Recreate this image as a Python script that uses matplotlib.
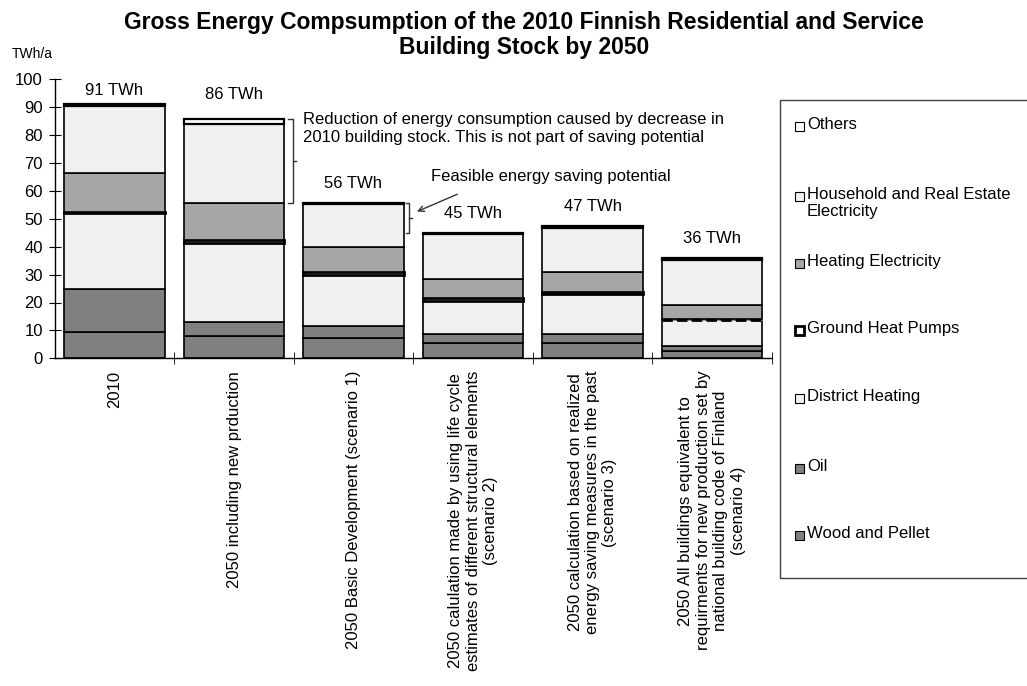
import matplotlib
matplotlib.use('Agg')
import matplotlib.pyplot as plt
import numpy as np

plt.rcParams['font.family'] = ['Liberation Sans', 'DejaVu Sans']

# categories (x axis)
categories = [
    "2010",
    "2050 including new prduction",
    "2050 Basic Development (scenario 1)",
    "2050 calulation made by using life cycle\nestimates of different structural elements\n(scenario 2)",
    "2050 calculation based on realized\nenergy saving measures in the past\n(scenario 3)",
    "2050 All buildings equivalent to\nrequirments for new production set by\nnational building code of Finland\n(scenario 4)",
]

# series, TWh/a, stacked bottom -> top
wood_pellet = [9.3, 8.0, 7.4, 5.4, 5.4, 2.6]
oil = [15.4, 5.1, 4.0, 3.2, 3.2, 1.9]
district_heating = [27.3, 28.1, 18.5, 12.1, 14.3, 9.3]
ground_heat_pumps = [0.6, 1.2, 0.9, 0.8, 1.0, 0.4]
heating_electricity = [13.7, 13.4, 9.0, 7.0, 6.9, 4.9]
household_electricity = [24.1, 28.2, 15.6, 15.9, 16.0, 16.3]
others = [0.6, 1.7, 0.4, 0.6, 0.6, 0.6]

series_names = ["Wood and Pellet", "Oil", "District Heating", "Ground Heat Pumps",
                "Heating Electricity", "Household and Real Estate\nElectricity", "Others"]
series = [wood_pellet, oil, district_heating, ground_heat_pumps,
          heating_electricity, household_electricity, others]
colors = ['#808080', '#808080', '#f0f0f0', '#ffffff', '#a6a6a6', '#f0f0f0', '#ffffff']
edge_w = [1.2, 1.2, 1.2, 2.0, 1.2, 1.2, 1.6]

yticks = list(range(0, 101, 10))

fig = plt.figure(figsize=(10.27, 6.86), dpi=100)
ax = fig.add_axes([54.75 / 1027, 1 - 358.3 / 686, 717 / 1027, (358.3 - 79.3) / 686])

x = np.arange(len(categories))
bottom = np.zeros(len(categories))
for name, vals, c, lw in zip(series_names, series, colors, edge_w):
    vals = np.array(vals)
    bars = ax.bar(x, vals, bottom=bottom, width=0.84, color=c, edgecolor='black', linewidth=lw)
    if name == "Ground Heat Pumps":
        bars[-1].set_linestyle('--')
    bottom += vals

totals = bottom
label_pad = [5, 9, 7, 7, 7, 7]
for xi, t, p in zip(x, totals, label_pad):
    ax.text(xi, t + p, f"{t:.0f} TWh", ha='center', va='center', fontsize=12)

ax.set_xlim(-0.5, len(categories) - 0.5)
ax.set_ylim(0, 100)
ax.set_yticks(yticks)
ax.tick_params(axis='y', direction='inout', length=9, labelsize=12, pad=4)
ax.set_xticks(x)
ax.set_xticklabels(categories, rotation=90, va='top', ha='center', multialignment='center', fontsize=12)
ax.tick_params(axis='x', which='major', length=0, pad=9)
ax.set_xticks(np.arange(0.5, len(categories)), minor=True)
ax.tick_params(axis='x', which='minor', direction='inout', length=9)
for s in ['top', 'right']:
    ax.spines[s].set_visible(False)
for s in ['left', 'bottom']:
    ax.spines[s].set_linewidth(1.0)

# braces and notes
def brace(x0, x1, xm, ytop, ybot):
    ymid = (ytop + ybot) / 2
    ax.plot([x0, x1, x1, x0], [ytop, ytop, ybot, ybot], color='#333333', lw=1, clip_on=False)
    ax.plot([x1, xm], [ymid, ymid], color='#333333', lw=1, clip_on=False)

brace(1.45, 1.494, 1.52, totals[1], totals[2])
brace(2.437, 2.465, 2.49, totals[2], totals[3])
ax.text(1.575, 82.3,
        "Reduction of energy consumption caused by decrease in\n2010 building stock. This is not part of saving potential",
        ha='left', va='center', fontsize=12, linespacing=1.25)
ax.text(2.65, 65.3, "Feasible energy saving potential", ha='left', va='center', fontsize=12)
ax.annotate("", xy=(2.51, 52.2), xytext=(2.89, 59.2),
            arrowprops=dict(arrowstyle='->', color='#333333', lw=1))

fig.text(12 / 1027, 1 - 54 / 686, "TWh/a", fontsize=10, ha='left', va='center')
fig.text(0.51, 1 - 11 / 686,
         "Gross Energy Compsumption of the 2010 Finnish Residential and Service\nBuilding Stock by 2050",
         ha='center', va='top', fontsize=16.5, fontweight='bold', linespacing=1.1)

# legend box drawn in figure pixels
W, H = 1027, 686
fig.patches.append(plt.Rectangle((780 / W, 1 - 578 / H), 260 / W, 478 / H, transform=fig.transFigure,
                                 facecolor='white', edgecolor='#404040', lw=1, clip_on=False))
leg_y = [126, 196, 263, 330, 398, 468, 535]
for name, c, ly in zip(series_names[::-1], colors[::-1], leg_y):
    lw = 2.0 if name == "Ground Heat Pumps" else 0.8
    fig.patches.append(plt.Rectangle((795 / W, 1 - (ly + 4.5) / H), 9 / W, 9 / H, transform=fig.transFigure,
                                     facecolor=c, edgecolor='black', lw=lw))
    fig.text(807 / W, 1 - (ly - 9) / H, name, ha='left', va='top', fontsize=12, linespacing=1.15)

fig.savefig('out.png', dpi=100)
